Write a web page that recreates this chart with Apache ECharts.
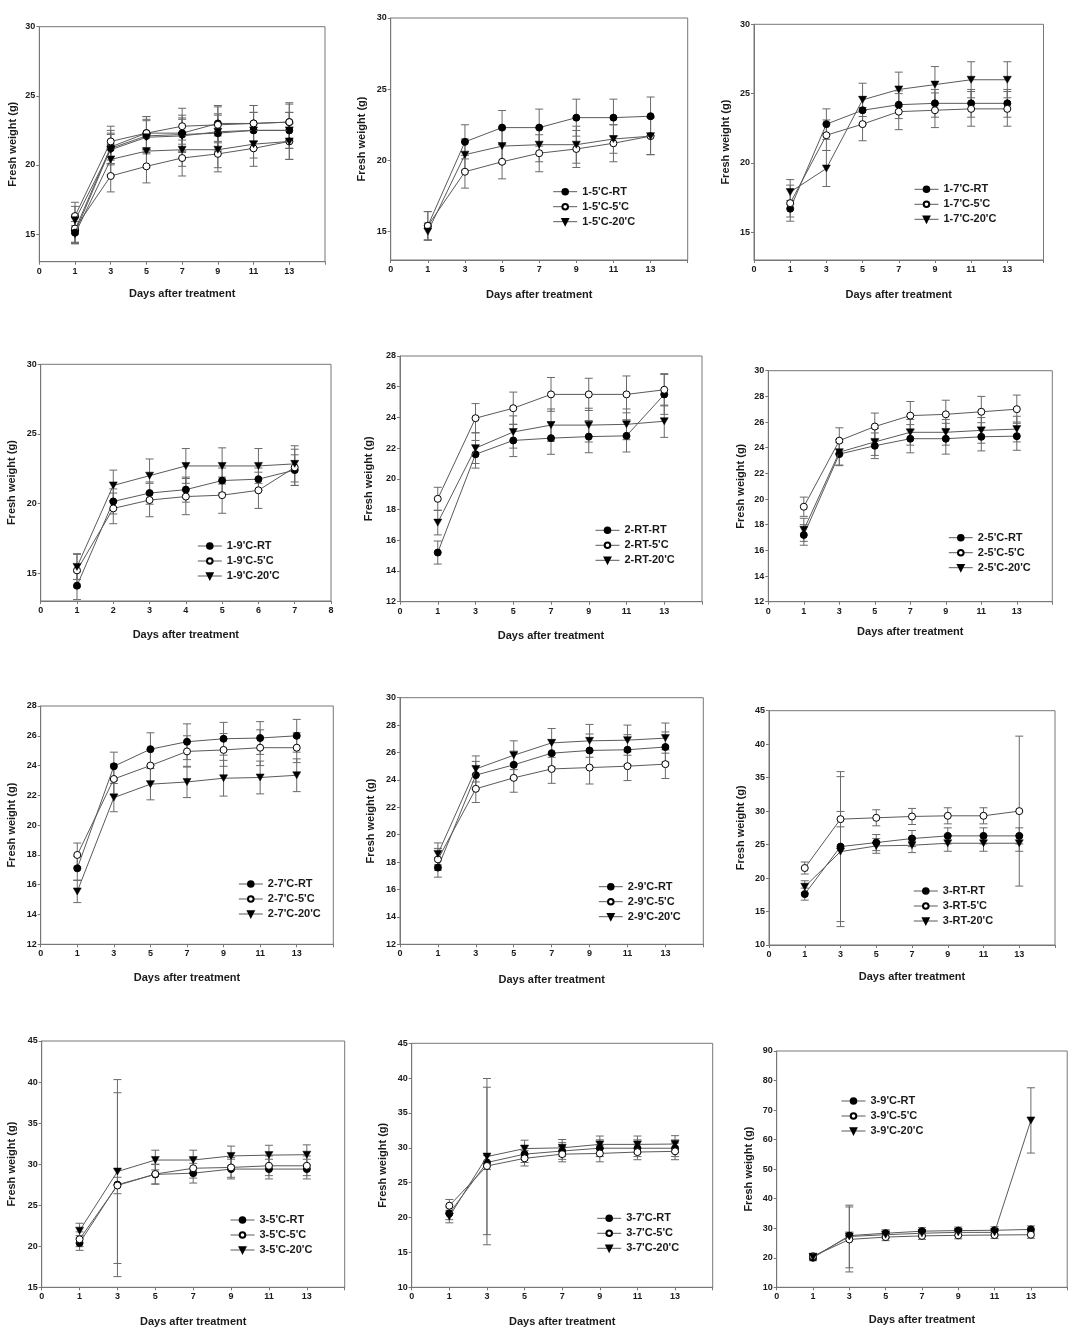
<!DOCTYPE html>
<html>
<head>
<meta charset="utf-8">
<script src="https://cdn.jsdelivr.net/npm/echarts@6/dist/echarts.min.js"></script>
<style>
html,body{margin:0;padding:0;background:#fff;}
#chart{width:1078px;height:1334px;}
</style>
</head>
<body>
<div id="chart"></div>
<script>
// ---------- categories / tick labels ----------
const xCats13 = ['0','1','3','5','7','9','11','13',''];
const xCats8 = ['0','1','2','3','4','5','6','7','8'];
const days13 = ['1','3','5','7','9','11','13'];
const days7 = ['1','2','3','4','5','6','7'];
const yTicks13_30 = [15,20,25,30];
const yTicks12_28 = [12,14,16,18,20,22,24,26,28];
const yTicks12_30 = [12,14,16,18,20,22,24,26,28,30];
const yTicks10_45 = [10,15,20,25,30,35,40,45];
const yTicks15_45 = [15,20,25,30,35,40,45];
const yTicks10_90 = [10,20,30,40,50,60,70,80,90];

// ---------- panel 1 (no legend) ----------
const p1_rtA = [15.3, 21.3, 22.3, 22.3, 23.0, 23.0, 23.1];
const p1_rtA_err = [1.0, 1.2, 1.2, 1.3, 1.3, 1.3, 1.3];
const p1_5cA = [15.4, 19.2, 19.9, 20.5, 20.8, 21.2, 21.7];
const p1_5cA_err = [1.0, 1.15, 1.2, 1.3, 1.3, 1.3, 1.3];
const p1_20cA = [15.0, 20.4, 21.0, 21.1, 21.1, 21.5, 21.7];
const p1_20cA_err = [0.6, 1.1, 1.2, 1.2, 1.3, 1.0, 1.3];
const p1_rtB = [15.1, 21.2, 22.1, 22.2, 22.3, 22.5, 22.5];
const p1_rtB_err = [0.8, 1.1, 1.2, 1.2, 1.3, 1.3, 1.3];
const p1_5cB = [16.3, 21.7, 22.3, 22.8, 22.9, 23.0, 23.1];
const p1_5cB_err = [1.0, 1.1, 1.2, 1.3, 1.3, 1.3, 1.4];
const p1_20cB = [16.0, 21.1, 22.0, 22.1, 22.4, 22.5, 22.5];
const p1_20cB_err = [1.0, 1.1, 1.2, 1.2, 1.3, 1.3, 1.3];

// ---------- 1-5'C ----------
const p2_rt = [15.4, 21.3, 22.3, 22.3, 23.0, 23.0, 23.1];
const p2_rt_err = [1.0, 1.2, 1.2, 1.3, 1.3, 1.3, 1.35];
const p2_5c = [15.4, 19.2, 19.9, 20.5, 20.8, 21.2, 21.7];
const p2_5c_err = [1.0, 1.15, 1.2, 1.3, 1.3, 1.3, 1.3];
const p2_20c = [15.0, 20.4, 21.0, 21.1, 21.1, 21.5, 21.7];
const p2_20c_err = [0.6, 1.1, 1.2, 1.2, 1.3, 1.0, 1.3];

// ---------- 1-7'C ----------
const p3_rt = [16.7, 22.8, 23.8, 24.2, 24.3, 24.3, 24.3];
const p3_rt_err = [0.6, 1.1, 1.0, 1.0, 1.0, 1.0, 1.0];
const p3_5c = [17.1, 22.0, 22.8, 23.7, 23.8, 23.9, 23.9];
const p3_5c_err = [1.3, 1.1, 1.2, 1.3, 1.25, 1.25, 1.25];
const p3_20c = [17.9, 19.6, 24.55, 25.3, 25.65, 26.0, 26.0];
const p3_20c_err = [0.9, 1.3, 1.2, 1.25, 1.3, 1.3, 1.3];

// ---------- 1-9'C (days 1-7) ----------
const p4_rt = [14.1, 20.15, 20.75, 21.0, 21.65, 21.75, 22.4];
const p4_rt_err = [1.0, 0.9, 0.8, 0.9, 0.9, 0.8, 1.1];
const p4_5c = [15.2, 19.65, 20.25, 20.5, 20.6, 20.95, 22.6];
const p4_5c_err = [1.2, 1.1, 1.2, 1.3, 1.3, 1.3, 1.3];
const p4_20c = [15.45, 21.3, 22.0, 22.7, 22.7, 22.7, 22.85];
const p4_20c_err = [0.9, 1.1, 1.2, 1.25, 1.3, 1.25, 1.3];

// ---------- 2-RT ----------
const p5_rt = [15.2, 21.6, 22.5, 22.65, 22.75, 22.8, 25.5];
const p5_rt_err = [0.75, 0.9, 1.05, 1.05, 1.05, 1.05, 1.3];
const p5_5c = [18.7, 23.95, 24.6, 25.5, 25.5, 25.5, 25.8];
const p5_5c_err = [0.75, 0.95, 1.05, 1.1, 1.05, 1.2, 1.05];
const p5_20c = [17.15, 22.0, 23.05, 23.5, 23.5, 23.55, 23.75];
const p5_20c_err = [0.8, 1.0, 1.05, 1.05, 1.1, 1.0, 1.05];

// ---------- 2-5'C ----------
const p6_rt = [17.2, 23.5, 24.15, 24.7, 24.7, 24.85, 24.9];
const p6_rt_err = [0.8, 0.9, 1.0, 1.1, 1.2, 1.1, 1.1];
const p6_5c = [19.4, 24.55, 25.65, 26.5, 26.6, 26.8, 27.0];
const p6_5c_err = [0.75, 1.0, 1.05, 1.1, 1.1, 1.2, 1.1];
const p6_20c = [17.6, 23.65, 24.45, 25.2, 25.2, 25.35, 25.45];
const p6_20c_err = [0.9, 1.0, 1.05, 1.0, 1.0, 1.0, 1.0];

// ---------- 2-7'C ----------
const p7_rt = [17.1, 23.95, 25.1, 25.6, 25.8, 25.85, 26.0];
const p7_rt_err = [0.8, 0.95, 1.1, 1.2, 1.1, 1.1, 1.1];
const p7_5c = [18.0, 23.1, 24.0, 24.95, 25.05, 25.2, 25.2];
const p7_5c_err = [0.8, 1.0, 1.05, 1.05, 1.1, 1.2, 1.0];
const p7_20c = [15.55, 21.85, 22.75, 22.9, 23.15, 23.2, 23.35];
const p7_20c_err = [0.75, 0.95, 1.05, 1.05, 1.2, 1.1, 1.1];

// ---------- 2-9'C ----------
const p8_rt = [17.6, 24.35, 25.1, 25.95, 26.15, 26.2, 26.4];
const p8_rt_err = [0.7, 1.0, 1.0, 1.0, 1.2, 1.1, 1.1];
const p8_5c = [18.2, 23.35, 24.15, 24.8, 24.9, 25.0, 25.15];
const p8_5c_err = [0.8, 1.0, 1.05, 1.05, 1.2, 1.05, 1.05];
const p8_20c = [18.6, 24.8, 25.8, 26.7, 26.85, 26.9, 27.05];
const p8_20c_err = [0.8, 0.95, 1.05, 1.05, 1.2, 1.1, 1.1];

// ---------- 3-RT ----------
const p9_rt = [17.6, 24.7, 25.3, 25.9, 26.3, 26.3, 26.3];
const p9_rt_err = [0.9, 11.2, 1.2, 1.2, 1.2, 1.2, 1.2];
const p9_5c = [21.5, 28.8, 29.0, 29.2, 29.3, 29.3, 30.0];
const p9_5c_err = [0.9, 1.15, 1.2, 1.2, 1.2, 1.2, 11.2];
const p9_20c = [18.7, 23.95, 24.8, 24.9, 25.2, 25.2, 25.2];
const p9_20c_err = [0.9, 11.2, 1.1, 1.1, 1.2, 1.2, 1.2];

// ---------- 3-5'C ----------
const p10_rt = [20.4, 27.5, 28.75, 28.9, 29.4, 29.4, 29.4];
const p10_rt_err = [0.9, 11.2, 1.2, 1.2, 1.2, 1.2, 1.2];
const p10_5c = [20.85, 27.4, 28.8, 29.5, 29.6, 29.8, 29.8];
const p10_5c_err = [0.9, 1.0, 1.2, 1.2, 1.2, 1.2, 1.2];
const p10_20c = [21.9, 29.1, 30.5, 30.5, 31.0, 31.1, 31.15];
const p10_20c_err = [0.9, 11.2, 1.2, 1.2, 1.2, 1.2, 1.2];

// ---------- 3-7'C ----------
const p11_rt = [20.6, 27.9, 29.1, 29.55, 29.95, 29.95, 29.95];
const p11_rt_err = [0.9, 1.0, 1.2, 1.2, 1.2, 1.2, 1.2];
const p11_5c = [21.7, 27.4, 28.5, 29.1, 29.2, 29.4, 29.5];
const p11_5c_err = [0.9, 11.3, 1.1, 1.1, 1.2, 1.1, 1.2];
const p11_20c = [20.15, 28.75, 29.9, 30.0, 30.5, 30.5, 30.55];
const p11_20c_err = [0.9, 11.2, 1.2, 1.2, 1.2, 1.2, 1.2];

// ---------- 3-9'C ----------
const p12_rt = [20.0, 27.5, 28.3, 29.0, 29.2, 29.3, 29.6];
const p12_rt_err = [1.0, 1.2, 1.2, 1.2, 1.2, 1.2, 1.2];
const p12_5c = [20.5, 26.2, 27.0, 27.4, 27.6, 27.7, 27.8];
const p12_5c_err = [1.0, 11.0, 1.2, 1.2, 1.2, 1.2, 1.2];
const p12_20c = [20.3, 27.2, 27.8, 28.3, 28.6, 28.6, 66.5];
const p12_20c_err = [1.0, 10.6, 1.2, 1.2, 1.2, 1.2, 11.05];

// ---------- panel definitions (built from the arrays above) ----------
const panels = [
  {cats:xCats13, days:days13, yMin:13, yMax:30, yTicks:yTicks13_30, legend:false, series:[
    ['1-A-RT', p1_rtA, p1_rtA_err, 'fill'], ['1-A-5', p1_5cA, p1_5cA_err, 'open'], ['1-A-20', p1_20cA, p1_20cA_err, 'tri'],
    ['1-B-RT', p1_rtB, p1_rtB_err, 'fill'], ['1-B-5', p1_5cB, p1_5cB_err, 'open'], ['1-B-20', p1_20cB, p1_20cB_err, 'tri']]},
  {cats:xCats13, days:days13, yMin:13, yMax:30, yTicks:yTicks13_30, legend:true, series:[
    ["1-5'C-RT", p2_rt, p2_rt_err, 'fill'], ["1-5'C-5'C", p2_5c, p2_5c_err, 'open'], ["1-5'C-20'C", p2_20c, p2_20c_err, 'tri']]},
  {cats:xCats13, days:days13, yMin:13, yMax:30, yTicks:yTicks13_30, legend:true, series:[
    ["1-7'C-RT", p3_rt, p3_rt_err, 'fill'], ["1-7'C-5'C", p3_5c, p3_5c_err, 'open'], ["1-7'C-20'C", p3_20c, p3_20c_err, 'tri']]},
  {cats:xCats8, days:days7, yMin:13, yMax:30, yTicks:yTicks13_30, legend:true, series:[
    ["1-9'C-RT", p4_rt, p4_rt_err, 'fill'], ["1-9'C-5'C", p4_5c, p4_5c_err, 'open'], ["1-9'C-20'C", p4_20c, p4_20c_err, 'tri']]},
  {cats:xCats13, days:days13, yMin:12, yMax:28, yTicks:yTicks12_28, legend:true, series:[
    ["2-RT-RT", p5_rt, p5_rt_err, 'fill'], ["2-RT-5'C", p5_5c, p5_5c_err, 'open'], ["2-RT-20'C", p5_20c, p5_20c_err, 'tri']]},
  {cats:xCats13, days:days13, yMin:12, yMax:30, yTicks:yTicks12_30, legend:true, series:[
    ["2-5'C-RT", p6_rt, p6_rt_err, 'fill'], ["2-5'C-5'C", p6_5c, p6_5c_err, 'open'], ["2-5'C-20'C", p6_20c, p6_20c_err, 'tri']]},
  {cats:xCats13, days:days13, yMin:12, yMax:28, yTicks:yTicks12_28, legend:true, series:[
    ["2-7'C-RT", p7_rt, p7_rt_err, 'fill'], ["2-7'C-5'C", p7_5c, p7_5c_err, 'open'], ["2-7'C-20'C", p7_20c, p7_20c_err, 'tri']]},
  {cats:xCats13, days:days13, yMin:12, yMax:30, yTicks:yTicks12_30, legend:true, series:[
    ["2-9'C-RT", p8_rt, p8_rt_err, 'fill'], ["2-9'C-5'C", p8_5c, p8_5c_err, 'open'], ["2-9'C-20'C", p8_20c, p8_20c_err, 'tri']]},
  {cats:xCats13, days:days13, yMin:10, yMax:45, yTicks:yTicks10_45, legend:true, series:[
    ["3-RT-RT", p9_rt, p9_rt_err, 'fill'], ["3-RT-5'C", p9_5c, p9_5c_err, 'open'], ["3-RT-20'C", p9_20c, p9_20c_err, 'tri']]},
  {cats:xCats13, days:days13, yMin:15, yMax:45, yTicks:yTicks15_45, legend:true, series:[
    ["3-5'C-RT", p10_rt, p10_rt_err, 'fill'], ["3-5'C-5'C", p10_5c, p10_5c_err, 'open'], ["3-5'C-20'C", p10_20c, p10_20c_err, 'tri']]},
  {cats:xCats13, days:days13, yMin:10, yMax:45, yTicks:yTicks10_45, legend:true, series:[
    ["3-7'C-RT", p11_rt, p11_rt_err, 'fill'], ["3-7'C-5'C", p11_5c, p11_5c_err, 'open'], ["3-7'C-20'C", p11_20c, p11_20c_err, 'tri']]},
  {cats:xCats13, days:days13, yMin:10, yMax:90, yTicks:yTicks10_90, legend:true, series:[
    ["3-9'C-RT", p12_rt, p12_rt_err, 'fill'], ["3-9'C-5'C", p12_5c, p12_5c_err, 'open'], ["3-9'C-20'C", p12_20c, p12_20c_err, 'tri']]}
];

// ---------- layout (pixels) ----------
const layout = [
  {l:39.3, t:26.7, w:285.7, h:235,   xg:27, yg:21, ll:0,     lt:0},
  {l:390.7,t:18,   w:297,   h:242,   xg:29, yg:23, ll:552.7, lt:191.7},
  {l:754,  t:24.3, w:289.5, h:235.7, xg:29, yg:23, ll:914,   lt:189.3},
  {l:40.7, t:364.3,w:290.3, h:236.7, xg:28, yg:23, ll:197.3, lt:546},
  {l:400,  t:356,  w:302,   h:245.7, xg:29, yg:26, ll:595,   lt:530.3},
  {l:768.3,t:370.7,w:284,   h:231,   xg:25, yg:22, ll:948.3, lt:537.7},
  {l:40.7, t:706,  w:292.6, h:238.3, xg:28, yg:23, ll:238.3, lt:884},
  {l:400,  t:697.7,w:303.3, h:246.6, xg:30, yg:24, ll:598.3, lt:886.7},
  {l:769,  t:710.7,w:286,   h:234.3, xg:26, yg:23, ll:913.3, lt:891},
  {l:41.7, t:1041, w:303,   h:246.3, xg:29, yg:24, ll:230,   lt:1220},
  {l:411.7,t:1043.3,w:301,  h:244,   xg:29, yg:23, ll:596.7, lt:1218.3},
  {l:776.7,t:1051, w:290.5, h:236.3, xg:27, yg:22, ll:841,   lt:1101}
];

const FONT = '"Liberation Sans", Arial, Helvetica, sans-serif';
const AX = '#777';
const TXT = '#1a1a1a';
const LINE = '#5a5a5a';
const TRI = 'path://M0,0L10,0L5,9Z';

function symStyle(kind) {
  if (kind === 'fill') return {symbol:'circle', symbolSize:7, itemStyle:{color:'#000', borderColor:'#000', borderWidth:1}};
  if (kind === 'open') return {symbol:'circle', symbolSize:7, itemStyle:{color:'#fff', borderColor:'#000', borderWidth:1}};
  return {symbol:TRI, symbolSize:[8,7], itemStyle:{color:'#000', borderColor:'#000', borderWidth:0.5}};
}

function renderErr(params, api) {
  const x = api.value(0);
  const lo = api.coord([x, api.value(1)]);
  const hi = api.coord([x, api.value(2)]);
  const w = 4;
  const st = {stroke:'#6a6a6a', lineWidth:1};
  return {type:'group', children:[
    {type:'line', shape:{x1:lo[0], y1:lo[1], x2:hi[0], y2:hi[1]}, style:st},
    {type:'line', shape:{x1:lo[0]-w, y1:lo[1], x2:lo[0]+w, y2:lo[1]}, style:st},
    {type:'line', shape:{x1:hi[0]-w, y1:hi[1], x2:hi[0]+w, y2:hi[1]}, style:st}
  ]};
}

const grid = [], xAxis = [], yAxis = [], series = [], legend = [];
panels.forEach((p, i) => {
  const L = layout[i];
  grid.push({left:L.l, top:L.t, width:L.w, height:L.h, show:true, borderColor:AX, borderWidth:1, backgroundColor:'transparent'});
  xAxis.push({
    type:'category', gridIndex:i, data:p.cats, boundaryGap:false,
    name:'Days after treatment', nameLocation:'middle', nameGap:L.xg,
    nameTextStyle:{fontFamily:FONT, fontWeight:'bold', fontSize:11, color:TXT},
    axisLine:{lineStyle:{color:AX, width:1}},
    axisTick:{show:true, inside:false, length:3, alignWithLabel:true, interval:0, lineStyle:{color:AX}},
    axisLabel:{interval:0, margin:5, fontFamily:FONT, fontWeight:'bold', fontSize:9, color:TXT},
    splitLine:{show:false}
  });
  yAxis.push({
    type:'value', gridIndex:i, min:p.yMin, max:p.yMax,
    name:'Fresh weight (g)', nameLocation:'middle', nameGap:L.yg,
    nameTextStyle:{fontFamily:FONT, fontWeight:'bold', fontSize:11, color:TXT},
    axisLine:{show:true, lineStyle:{color:AX, width:1}},
    axisTick:{show:true, length:3, customValues:p.yTicks, lineStyle:{color:AX}},
    axisLabel:{customValues:p.yTicks, margin:4, fontFamily:FONT, fontWeight:'bold', fontSize:9, color:TXT},
    splitLine:{show:false}
  });
  const names = [];
  p.series.forEach((s, k) => {
    const [name, mean, err, kind] = s;
    names.push(name);
    series.push({
      type:'custom', name:name + ' err', xAxisIndex:i, yAxisIndex:i, z:1, silent:true,
      renderItem:renderErr, encode:{x:0, y:[1,2]},
      data:p.days.map((d, j) => [d, mean[j] - err[j], mean[j] + err[j]])
    });
    series.push(Object.assign({
      type:'line', name:name, xAxisIndex:i, yAxisIndex:i, z:3 + k,
      data:p.days.map((d, j) => [d, mean[j]]),
      lineStyle:{color:LINE, width:1}, color:'#000',
      showSymbol:true, silent:true
    }, symStyle(kind)));
  });
  if (p.legend) {
    legend.push({
      data:names, orient:'vertical', left:L.ll, top:L.lt - 6, padding:0,
      itemWidth:24, itemHeight:7, itemGap:3, selectedMode:false,
      lineStyle:{color:LINE, width:1},
      textStyle:{fontFamily:FONT, fontWeight:'bold', fontSize:11, color:TXT, lineHeight:12}
    });
  }
});

const chart = echarts.init(document.getElementById('chart'), null, {renderer:'canvas'});
chart.setOption({
  animation:false,
  backgroundColor:'#fff',
  grid, xAxis, yAxis, legend, series,
  tooltip:{show:false}
});
</script>
</body>
</html>
